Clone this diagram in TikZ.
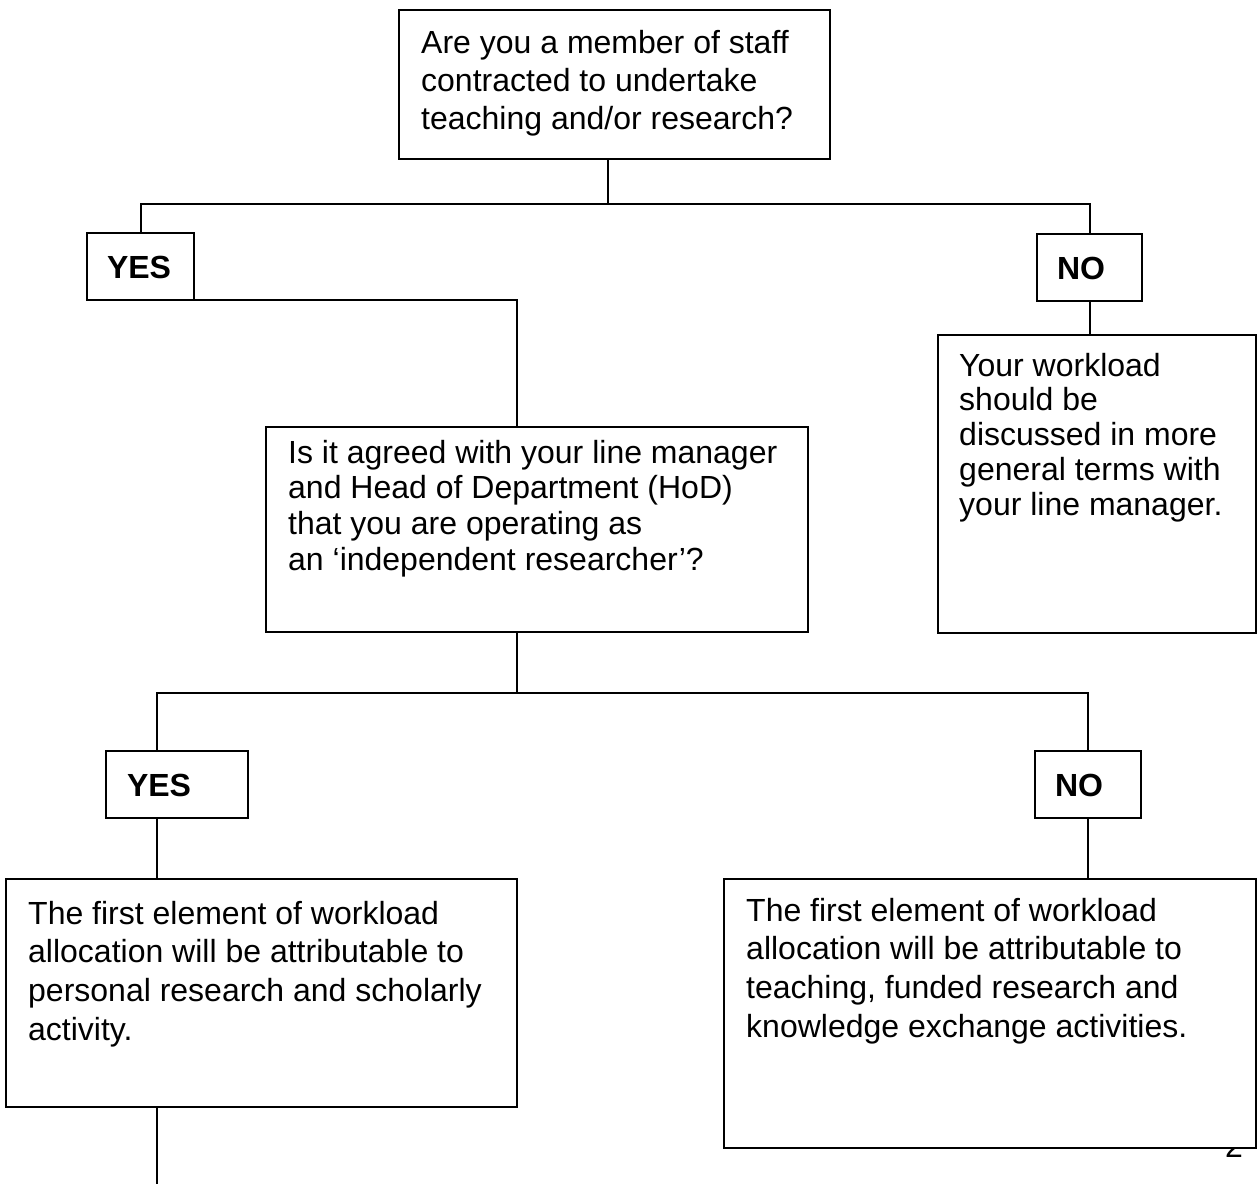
\documentclass[tikz,border=0pt]{standalone}
\usepackage{fontspec}
\setmainfont{Liberation Sans}
\begin{document}
\begin{tikzpicture}[x=1pt,y=-1pt,
  box/.style={draw=black, line width=2pt, fill=white, inner sep=0pt, outer sep=0pt, anchor=north west},
  txt/.style={inner sep=0pt, anchor=base west, font=\fontsize{32}{#1}\selectfont},
  txt/.default=36.8,
  ans/.style={box, font=\fontsize{32}{36.8}\selectfont\bfseries, text height=23pt, text depth=0pt, align=left, minimum height=67pt},
  conn/.style={draw=black, line width=2pt}
]
\useasboundingbox (0,0) rectangle (1258,1184);

% page number, partly hidden behind the last box
\node[txt] (pg) at (1225,1157) {2};

% boxes
\node[box, minimum width=431pt, minimum height=149pt] (q1) at (399,10) {};
\node[ans, inner xsep=20pt, text width=67pt] (yes1) at (87,233) {YES};
\node[ans, inner xsep=20pt, text width=65pt] (no1) at (1037,234) {NO};
\node[box, minimum width=318pt, minimum height=298pt] (r0) at (938,335) {};
\node[box, minimum width=542pt, minimum height=205pt] (q2) at (266,427) {};
\node[ans, inner xsep=21pt, text width=100pt] (yes2) at (106,751) {YES};
\node[ans, inner xsep=20pt, text width=66pt] (no2) at (1035,751) {NO};
\node[box, minimum width=511pt, minimum height=228pt] (r1) at (6,879) {};
\node[box, minimum width=532pt, minimum height=269pt] (r2) at (724,879) {};

% texts
\node[txt=38] (q1t) at (421,53) {\begin{tabular}[t]{@{}l@{}}Are you a member of staff\\contracted to undertake\\teaching and/or research?\end{tabular}};
\node[txt=34.8] (r0t) at (959,376) {\begin{tabular}[t]{@{}l@{}}Your workload\\should be\\discussed in more\\general terms with\\your line manager.\end{tabular}};
\node[txt=35.7] (q2t) at (288,463) {\begin{tabular}[t]{@{}l@{}}Is it agreed with your line manager\\and Head of Department (HoD)\\that you are operating as\\an ‘independent researcher’?\end{tabular}};
\node[txt=38.7] (r1t) at (28,924) {\begin{tabular}[t]{@{}l@{}}The first element of workload\\allocation will be attributable to\\personal research and scholarly\\activity.\end{tabular}};
\node[txt=38.7] (r2t) at (746,921) {\begin{tabular}[t]{@{}l@{}}The first element of workload\\allocation will be attributable to\\teaching, funded research and\\knowledge exchange activities.\end{tabular}};

% junction coordinates
\coordinate (bus1) at (608,204);
\coordinate (jx) at (517,0);
\coordinate (bus2) at (517,693);
\coordinate (cl) at (157,0);
\coordinate (tail) at (157,1184);

% connectors
\draw[conn] (q1.south -| bus1) -- (bus1);
\draw[conn] (yes1.north) |- (bus1) -| (no1.north);
\draw[conn] (yes1.south east) -| (q2.north -| jx);
\draw[conn] (no1.south) -- (r0.north -| no1.south);
\draw[conn] (q2.south -| jx) -- (bus2);
\draw[conn] (yes2.north -| cl) |- (bus2) -| (no2.north);
\draw[conn] (yes2.south -| cl) -- (r1.north -| cl);
\draw[conn] (no2.south) -- (r2.north -| no2.south);
\draw[conn] (r1.south -| tail) -- (tail);
\end{tikzpicture}
\end{document}
